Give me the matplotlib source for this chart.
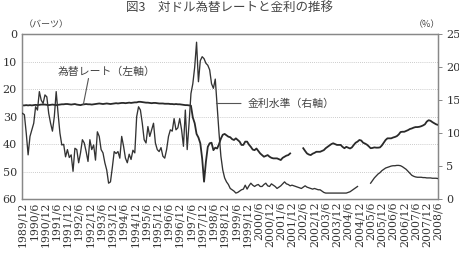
import numpy as np
import matplotlib
matplotlib.use("Agg")
import matplotlib.pyplot as plt

nan = np.nan

# Tick labels (semiannual), monthly data from 1989/12 to 2008/6
tick_labels = ["1989/12", "1990/6", "1990/12", "1991/6", "1991/12", "1992/6", "1992/12",
               "1993/6", "1993/12", "1994/6", "1994/12", "1995/6", "1995/12", "1996/6",
               "1996/12", "1997/6", "1997/12", "1998/6", "1998/12", "1999/6", "1999/12",
               "2000/6", "2000/12", "2001/6", "2001/12", "2002/6", "2002/12", "2003/6",
               "2003/12", "2004/6", "2004/12", "2005/6", "2005/12", "2006/6", "2006/12",
               "2007/6", "2007/12", "2008/6"]

# Exchange rate (baht per USD), left axis (inverted)
exchange_rate = [
    25.9, 25.9, 25.8, 25.9, 25.8, 25.9, 25.8, 25.7, 25.8, 25.7, 25.6, 25.6,
    25.6, 25.7, 25.8, 25.7, 25.6, 25.7, 25.8, 25.7, 25.6, 25.5, 25.5, 25.4,
    25.4, 25.5, 25.6, 25.5, 25.4, 25.6, 25.7, 25.8, 25.6, 25.5, 25.4, 25.5,
    25.5, 25.6, 25.5, 25.4, 25.3, 25.2, 25.3, 25.4, 25.3, 25.2, 25.3, 25.4,
    25.3, 25.2, 25.1, 25.2, 25.1, 25.0, 25.0, 25.1, 25.0, 24.9, 25.0, 24.9,
    24.8, 24.8, 24.6, 24.6, 24.7, 24.8, 24.9, 24.9, 25.0, 25.1, 25.0, 25.0,
    25.1, 25.2, 25.2, 25.2, 25.3, 25.3, 25.3, 25.4, 25.4, 25.5, 25.4, 25.5,
    25.5, 25.6, 25.7, 25.8, 25.8, 25.9, 26.0,
    30.3, 32.4, 36.3, 37.6, 39.7, 45.3, 53.7, 46.4, 41.0, 39.7, 39.5, 42.2,
    41.3, 41.6, 40.0, 38.0, 36.6, 36.3, 36.8, 37.3, 37.5, 38.2, 38.5, 37.9,
    38.5, 39.1, 40.3, 40.3, 39.1, 39.1, 40.2, 41.0, 42.0, 42.2, 41.6, 42.5,
    43.4, 44.0, 44.6, 44.3, 44.0, 44.6, 45.0, 45.2, 45.2, 45.2, 45.5, 45.8,
    45.0, 44.6, 44.2, 44.0, 43.4,
    nan, nan, nan, nan, nan, nan,
    41.5, 42.5, 43.4, 43.8, 44.0, 43.5, 43.2, 42.8, 42.8, 42.8, 42.5, 42.2,
    41.5, 41.0, 40.5, 40.0, 39.7, 40.0, 40.3, 40.3, 40.3, 41.0, 41.5, 41.0,
    41.3, 41.6, 41.2, 40.3, 39.5, 39.1, 38.5, 38.7, 39.5, 39.8, 40.2, 40.8,
    41.5, 41.4, 41.2, 41.3, 41.3, 41.2, 40.5, 39.5, 38.5, 37.9, 37.9, 37.9,
    37.6, 37.4, 37.1, 36.5, 35.6, 35.5, 35.5, 35.2, 34.9, 34.5, 34.3, 34.0,
    33.8, 33.8, 33.7, 33.5, 33.2, 32.8, 31.8, 31.3, 31.5, 32.0, 32.4, 32.8,
    33.0,
]

# Interest rate (%), right axis
interest_rate = [
    13.0, 12.8, 10.0, 6.7, 9.5, 10.5, 11.5, 14.0, 13.5, 16.3, 15.0, 14.5,
    15.8, 15.5, 13.0, 11.5, 10.3, 12.5, 16.3, 13.0, 10.0, 8.2, 8.3, 6.4,
    7.5, 6.3, 6.7, 4.2, 7.7, 7.5, 5.5, 7.0, 9.0, 8.5, 7.2, 5.7,
    9.0, 7.5, 8.2, 5.9, 10.2, 9.5, 7.5, 7.0, 5.5, 4.4, 2.4, 2.6,
    4.8, 7.2, 6.9, 7.2, 6.2, 9.5, 8.0, 6.2, 5.5, 6.8, 6.0, 7.4,
    7.0, 12.5, 14.0, 13.5, 11.5, 9.0, 8.5, 11.0, 9.5, 10.5, 11.5, 8.5,
    7.5, 7.2, 7.8, 6.5, 6.2, 7.5, 9.5, 10.5, 10.3, 12.2, 10.5, 10.8,
    12.2, 10.5, 8.0, 13.5, 7.5, 11.5, 16.0, 17.5, 20.0, 23.8, 17.8, 21.0,
    21.6, 21.3, 20.6, 20.3, 19.6, 17.5, 16.8, 18.2, 14.0, 10.0, 6.5, 4.4,
    3.2, 2.6, 2.2, 1.6, 1.4, 1.2, 0.9, 1.0, 1.2, 1.4, 1.5, 2.1,
    1.5, 2.0, 2.4, 2.1, 1.9, 2.1, 2.2, 1.9, 1.9, 2.2, 2.4, 2.0,
    1.9, 2.3, 2.1, 1.9, 1.6, 1.8, 2.0, 2.3, 2.6, 2.3, 2.2, 2.0,
    2.1, 2.0, 1.9, 1.8, 1.7, 1.6, 1.8, 2.0, 1.8, 1.7, 1.6, 1.5,
    1.6, 1.5, 1.4, 1.4, 1.2, 1.0, 0.9, 0.9, 0.9, 0.9, 0.9, 0.9,
    0.9, 0.9, 0.9, 0.9, 0.9, 0.9, 1.0, 1.1, 1.3, 1.5, 1.7, 1.9,
    nan, nan, nan, nan, nan, nan,
    2.4, 2.8, 3.2, 3.5, 3.8, 4.0, 4.3, 4.5, 4.7, 4.8, 4.9, 5.0,
    5.05, 5.05, 5.1, 5.1, 5.05, 4.9, 4.7, 4.5, 4.2, 3.9, 3.6, 3.45,
    3.35, 3.3, 3.3, 3.3, 3.25, 3.25, 3.2, 3.2, 3.2, 3.15, 3.15, 3.15,
    3.1,
]

months = np.arange(len(exchange_rate))
tick_pos = np.arange(0, len(exchange_rate), 6)

W, H = 460, 254
fig = plt.figure(figsize=(W / 100, H / 100), dpi=100)

def fx(px):
    return px / W

def fy(py):
    return 1 - py / H

ax = fig.add_axes([fx(22.5), fy(199), fx(438) - fx(22.5), fy(34.3) - fy(199)])
ax2 = ax.twinx()

cjk = ["Noto Sans CJK JP", "DejaVu Sans"]
num_font = "DejaVu Serif"
txt_col = "#333333"
spine_col = "#888888"

ax.plot(months, exchange_rate, color="#2a2a2a", lw=1.3, zorder=3)
ax2.plot(months, interest_rate, color="#333333", lw=0.95, zorder=3)

ax.set_xlim(0, len(exchange_rate) - 1)
ax.set_ylim(60, 0)
ax2.set_ylim(0, 25)

ax.set_yticks([0, 10, 20, 30, 40, 50, 60])
ax2.set_yticks([0, 5, 10, 15, 20, 25])
ax.set_xticks(tick_pos)
ax.set_xticklabels(tick_labels, rotation=90, fontfamily=num_font, fontsize=7.8, color=txt_col)

for lab in ax.get_yticklabels():
    lab.set_fontfamily(num_font)
for lab in ax2.get_yticklabels():
    lab.set_fontfamily(num_font)

ax.tick_params(axis="y", length=0, pad=4, labelsize=8, labelcolor=txt_col)
ax.tick_params(axis="x", length=0, pad=2, labelcolor=txt_col)
ax2.tick_params(axis="y", length=3, width=0.7, color=spine_col, pad=3, labelsize=8, labelcolor=txt_col)

# horizontal dotted grid
for v in [10, 20, 30, 40, 50]:
    ax.axhline(v, color="#bbbbbb", lw=0.6, ls=(0, (1, 1.5)), zorder=1)

for a in (ax, ax2):
    for s in a.spines.values():
        s.set_color(spine_col)
        s.set_linewidth(0.9)

# Titles / units
fig.text(fx(230), fy(11), "図3　対ドル為替レートと金利の推移", ha="center", va="baseline",
         fontfamily=cjk, fontsize=9, color="#444444")
fig.text(fx(24), fy(25), "（バーツ）", ha="left", va="center", fontfamily=cjk,
         fontsize=6.5, color="#444444")
fig.text(fx(440), fy(25), "（%）", ha="right", va="center", fontfamily=cjk,
         fontsize=6.5, color="#444444")

# Annotations
fig.text(fx(58), fy(71.5), "為替レート（左軸）", ha="left", va="center", fontfamily=cjk,
         fontsize=7.8, color="#444444")
ax.annotate("", xy=(32.5, exchange_rate[32]), xycoords="data",
            xytext=(fx(88.5), fy(78.5)), textcoords="figure fraction",
            arrowprops=dict(arrowstyle="-", color="#555555", lw=0.8, shrinkA=0, shrinkB=0))

fig.text(fx(248), fy(103.5), "金利水準（右軸）", ha="left", va="center", fontfamily=cjk,
         fontsize=7.8, color="#444444")
ax2.annotate("", xy=(103.6, (199 - 103.5) / (199 - 34.3) * 25), xycoords="data",
             xytext=(fx(241), fy(103.5)), textcoords="figure fraction",
             arrowprops=dict(arrowstyle="-", color="#555555", lw=0.8, shrinkA=0, shrinkB=0))

fig.savefig("out.png", dpi=100)
